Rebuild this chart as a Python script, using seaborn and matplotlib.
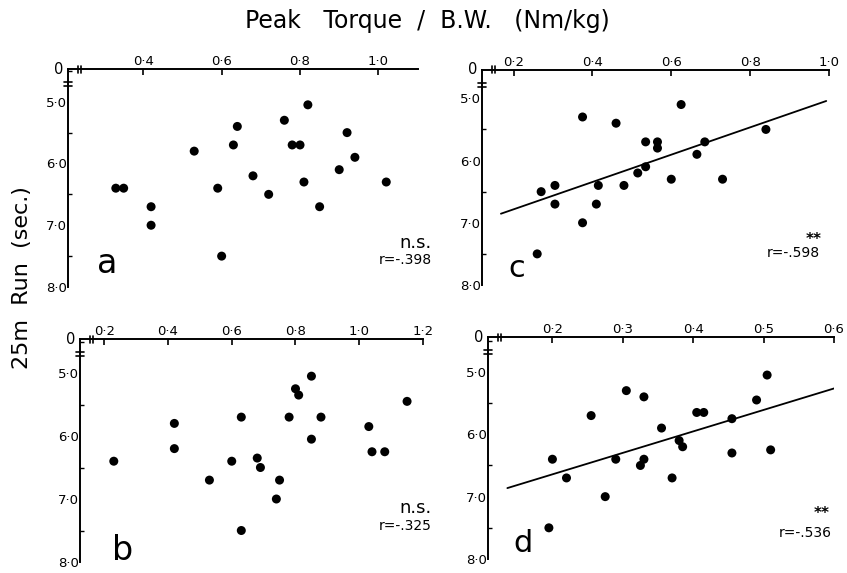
import numpy as np
import pandas as pd
import matplotlib
matplotlib.use("Agg")
import matplotlib.pyplot as plt
import seaborn as sns
from matplotlib.ticker import FuncFormatter, MultipleLocator

# peak torque / body weight (Nm/kg) against 25 m run time (sec.)
a_torque = [0.33, 0.35, 0.42, 0.42, 0.53, 0.59, 0.60, 0.63, 0.64, 0.68, 0.72,
            0.76, 0.78, 0.80, 0.81, 0.82, 0.85, 0.90, 0.92, 0.94, 1.02]
a_run = [6.4, 6.4, 6.7, 7.0, 5.8, 6.4, 7.5, 5.7, 5.4, 6.2, 6.5,
         5.3, 5.7, 5.7, 6.3, 5.05, 6.7, 6.1, 5.5, 5.9, 6.3]

b_torque = [0.23, 0.42, 0.42, 0.53, 0.60, 0.63, 0.63, 0.68, 0.69, 0.74, 0.75,
            0.78, 0.80, 0.81, 0.85, 0.85, 0.88, 1.03, 1.04, 1.08, 1.15]
b_run = [6.4, 5.8, 6.2, 6.7, 6.4, 5.7, 7.5, 6.35, 6.5, 7.0, 6.7,
         5.7, 5.25, 5.35, 5.05, 6.05, 5.7, 5.85, 6.25, 6.25, 5.45]

c_torque = [0.26, 0.27, 0.305, 0.305, 0.375, 0.375, 0.41, 0.415, 0.46, 0.48, 0.515,
            0.535, 0.535, 0.565, 0.565, 0.60, 0.625, 0.665, 0.685, 0.73, 0.84]
c_run = [7.5, 6.5, 6.4, 6.7, 5.3, 7.0, 6.7, 6.4, 5.4, 6.4, 6.2,
         5.7, 6.1, 5.7, 5.8, 6.3, 5.1, 5.9, 5.7, 6.3, 5.5]

d_torque = [0.195, 0.20, 0.22, 0.255, 0.275, 0.29, 0.305, 0.325, 0.33, 0.33, 0.355,
            0.37, 0.38, 0.385, 0.405, 0.415, 0.455, 0.455, 0.49, 0.505, 0.51]
d_run = [7.5, 6.4, 6.7, 5.7, 7.0, 6.4, 5.3, 6.5, 5.4, 6.4, 5.9,
         6.7, 6.1, 6.2, 5.65, 5.65, 5.75, 6.3, 5.45, 5.05, 6.25]

r_values = {'a': '-.398', 'b': '-.325', 'c': '-.598', 'd': '-.536'}
signif = {'a': 'n.s.', 'b': 'n.s.', 'c': '**', 'd': '**'}
# x extent of the drawn regression lines (only c and d are significant)
fit_range = {'c': [0.168, 0.993], 'd': [0.136, 0.601]}

sns.set_style('white')
plt.rcParams['font.family'] = ['DejaVu Sans']
plt.rcParams['text.color'] = 'black'
plt.rcParams['xtick.color'] = 'black'
plt.rcParams['ytick.color'] = 'black'

W, H = 847, 573
fig = plt.figure(figsize=(W / 100, H / 100), dpi=100)


def fx(x):
    return x / W


def fy(y):
    return 1 - y / H


def dec(v, pos):
    return ('%.1f' % v).replace('.', '\u00b7')


# axes boxes in pixels: left, top, right, bottom
panels = [
    ('a', a_torque, a_run, (68, 69, 418, 287), (0.208, 1.101), 4.47, 0.2),
    ('c', c_torque, c_run, (482, 70, 829, 285), (0.120, 1.0), 4.545, 0.2),
    ('b', b_torque, b_run, (80, 339, 423, 562), (0.124, 1.2), 4.46, 0.2),
    ('d', d_torque, d_run, (488, 337, 834, 559), (0.1085, 0.6), 4.44, 0.1),
]

for key, xs, ys, box, xlim, ytop, step in panels:
    l, t, r, b = box
    ax = fig.add_axes([fx(l), fy(b), fx(r - l), (b - t) / H])
    df = pd.DataFrame({'torque': xs, 'run': ys})
    sns.scatterplot(data=df, x='torque', y='run', ax=ax, color='black',
                    s=42, edgecolor='none', zorder=3)
    if key in fit_range:
        slope, icpt = np.polyfit(xs, ys, 1)
        lx = np.array(fit_range[key])
        sns.lineplot(x=lx, y=icpt + slope * lx, ax=ax, color='black', lw=1.3)
    ax.set_xlim(*xlim)
    ax.set_ylim(8.0, ytop)
    ax.set_xlabel('')
    ax.set_ylabel('')
    ax.xaxis.tick_top()
    ax.xaxis.set_major_locator(MultipleLocator(step))
    ax.yaxis.set_major_locator(MultipleLocator(1.0))
    ax.yaxis.set_minor_locator(MultipleLocator(0.5))
    ax.xaxis.set_major_formatter(FuncFormatter(dec))
    ax.yaxis.set_major_formatter(FuncFormatter(dec))
    ax.set_yticks([5.0, 6.0, 7.0, 8.0])
    ax.tick_params(axis='x', direction='in', length=4, width=1.2, pad=1,
                   labelsize=9.5, top=True, bottom=False)
    ax.tick_params(axis='y', which='major', direction='in', length=5,
                   width=1.2, pad=1, labelsize=9.5)
    ax.tick_params(axis='y', which='minor', direction='in', length=3,
                   width=1.0, left=True)
    for s in ('bottom', 'right'):
        ax.spines[s].set_visible(False)
    for s in ('top', 'left'):
        ax.spines[s].set_linewidth(1.4)
        ax.spines[s].set_color('black')
    ax.grid(False)

    # origin label and axis break marks
    w, h = r - l, b - t
    ax.annotate('0', xy=(0, 1), xycoords='axes fraction', xytext=(-3, 0),
                textcoords='offset points', ha='right', va='center', fontsize=10.5)
    for off in (10, 13):
        ax.plot([off / w, off / w], [1 - 3.5 / h, 1 + 3.5 / h], color='black',
                lw=1.2, transform=ax.transAxes, clip_on=False)
    for off in (13, 17):
        ax.plot([-4 / w, 4 / w], [1 - off / h, 1 - off / h], color='black',
                lw=1.2, transform=ax.transAxes, clip_on=False)

# panel letters
fig.text(fx(97), fy(273), 'a', fontsize=24, va='baseline')
fig.text(fx(508), fy(277), 'c', fontsize=22, va='baseline')
fig.text(fx(112), fy(560), 'b', fontsize=24, va='baseline')
fig.text(fx(513), fy(552), 'd', fontsize=22, va='baseline')

# significance and correlation
fig.text(fx(432), fy(248), signif['a'], fontsize=13, ha='right', va='baseline')
fig.text(fx(432), fy(264), 'r=' + r_values['a'], fontsize=10, ha='right', va='baseline')
fig.text(fx(822), fy(244), signif['c'], fontsize=11, ha='right', va='baseline',
         fontweight='bold')
fig.text(fx(820), fy(257), 'r=' + r_values['c'], fontsize=10, ha='right', va='baseline')
fig.text(fx(432), fy(513), signif['b'], fontsize=13, ha='right', va='baseline')
fig.text(fx(432), fy(530), 'r=' + r_values['b'], fontsize=10, ha='right', va='baseline')
fig.text(fx(830), fy(518), signif['d'], fontsize=11, ha='right', va='baseline',
         fontweight='bold')
fig.text(fx(832), fy(537), 'r=' + r_values['d'], fontsize=10, ha='right', va='baseline')

fig.text(fx(427), fy(21), 'Peak   Torque  /  B.W.   (Nm/kg)', fontsize=17,
         ha='center', va='center')
fig.text(fx(22), fy(278), '25m  Run  (sec.)', fontsize=16, rotation=90,
         ha='center', va='center')

fig.savefig('out.png', dpi=100)
